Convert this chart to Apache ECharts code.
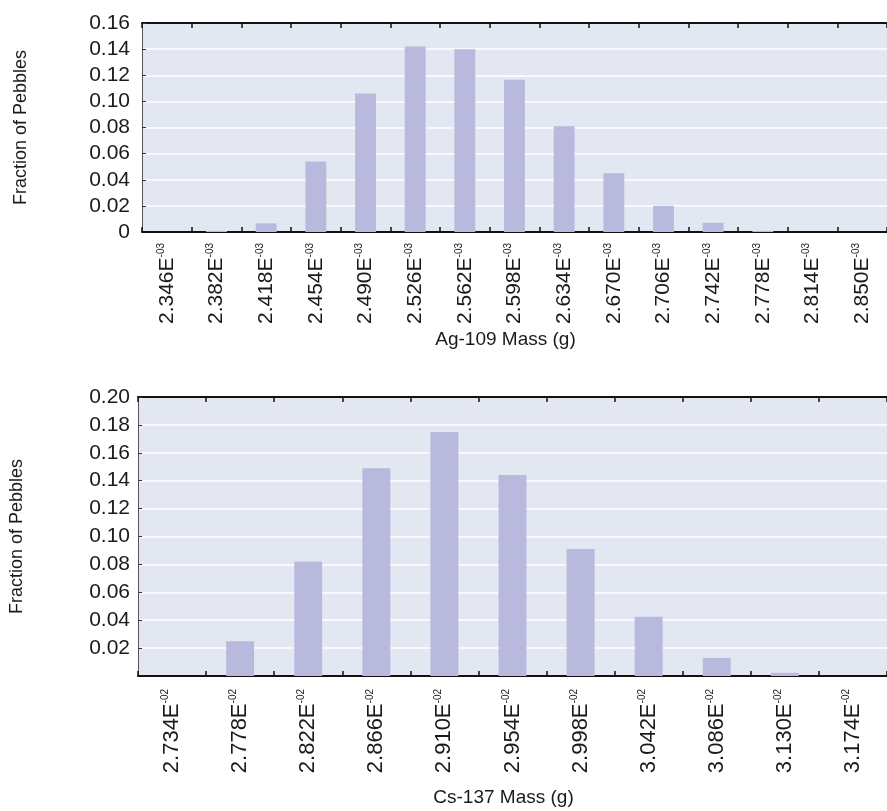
<!DOCTYPE html>
<html>
<head>
<meta charset="utf-8">
<script src="https://cdn.jsdelivr.net/npm/echarts@6/dist/echarts.min.js"></script>
<style>
  html, body { margin: 0; padding: 0; background: #fff; }
  #chart { width: 887px; height: 811px; }
</style>
</head>
<body>
<div id="chart"></div>
<script>
// Ag-109 histogram (top panel)
const agMass = ['2.346', '2.382', '2.418', '2.454', '2.490', '2.526', '2.562', '2.598',
    '2.634', '2.670', '2.706', '2.742', '2.778', '2.814', '2.850']
const agFraction = [0, 0.0008, 0.0066, 0.054, 0.106, 0.142, 0.140, 0.1165,
    0.081, 0.045, 0.020, 0.007, 0.0008, 0, 0]
const agExp = '-03'

// Cs-137 histogram (bottom panel)
const csMass = ['2.734', '2.778', '2.822', '2.866', '2.910', '2.954', '2.998',
    '3.042', '3.086', '3.130', '3.174']
const csFraction = [0, 0.025, 0.082, 0.149, 0.175, 0.144, 0.091, 0.0425, 0.013, 0.0023, 0]
const csExp = '-02'

const FONT = "'Liberation Sans', Arial, Helvetica, sans-serif"
const TXT = '#1a1a1a'
const BAR = '#b9b9dd'
const PLOT_BG = '#e2e7f2'

function massLabels(exp, margin, size) {
    return {
        rotate: 90,
        margin: margin,
        interval: 0,
        formatter: v => '{n|' + v + 'E}{s|' + exp + '}',
        rich: {
            n: { fontFamily: FONT, fontSize: size, color: TXT, lineHeight: size + 1 },
            s: { fontFamily: FONT, fontSize: 10, color: TXT, verticalAlign: 'top', lineHeight: size + 1 }
        }
    }
}

function bottomAxis(idx, cats, exp, title, gap, margin, size) {
    return {
        type: 'category',
        gridIndex: idx,
        position: 'bottom',
        data: cats,
        axisLine: { show: true, lineStyle: { color: '#111', width: 2 } },
        axisTick: { show: true, inside: true, length: 5, lineStyle: { color: '#111', width: 1.5 } },
        axisLabel: massLabels(exp, margin, size),
        name: title,
        nameLocation: 'middle',
        nameGap: gap,
        nameTextStyle: { fontFamily: FONT, fontSize: 19, color: TXT, padding: [0, 18, 0, 0] },
        z: 1
    }
}

function topAxis(idx, cats) {
    return {
        type: 'category',
        gridIndex: idx,
        position: 'top',
        data: cats,
        axisLine: { show: true, lineStyle: { color: '#111', width: 2 } },
        axisTick: { show: true, inside: true, length: 5, lineStyle: { color: '#111', width: 1.5 } },
        axisLabel: { show: false }
    }
}

function fracAxis(idx, max, showZero, margin) {
    return {
        type: 'value',
        gridIndex: idx,
        min: 0,
        max: max,
        interval: 0.02,
        axisLine: { show: true, lineStyle: { color: '#555', width: 1 } },
        axisTick: { show: true, inside: true, length: 4, lineStyle: { color: '#333' } },
        splitLine: { show: true, lineStyle: { color: '#ffffff', width: 1.5 } },
        axisLabel: {
            fontFamily: FONT, fontSize: 21, color: TXT, margin: margin,
            formatter: v => v === 0 ? (showZero ? '0' : '') : v.toFixed(2)
        },
        name: 'Fraction of Pebbles',
        nameLocation: 'middle',
        nameGap: 112,
        nameTextStyle: { fontFamily: FONT, fontSize: 18, color: TXT }
    }
}

const chart = echarts.init(document.getElementById('chart'), null, { renderer: 'canvas' })

const option = {
    animation: false,
    backgroundColor: '#ffffff',
    grid: [
        { left: 142, top: 23, right: 0, height: 209, show: true, backgroundColor: PLOT_BG, borderWidth: 0 },
        { left: 137, top: 397, right: 0, height: 279, show: true, backgroundColor: PLOT_BG, borderWidth: 0 }
    ],
    xAxis: [
        bottomAxis(0, agMass, agExp, 'Ag-109 Mass (g)', 98, 11, 21),
        topAxis(0, agMass),
        bottomAxis(1, csMass, csExp, 'Cs-137 Mass (g)', 112, 13, 22),
        topAxis(1, csMass)
    ],
    yAxis: [
        fracAxis(0, 0.16, true, 12),
        fracAxis(1, 0.20, false, 8)
    ],
    series: [
        {
            type: 'bar',
            xAxisIndex: 0,
            yAxisIndex: 0,
            data: agFraction,
            barWidth: '42%',
            itemStyle: { color: BAR },
            z: 3
        },
        {
            type: 'bar',
            xAxisIndex: 2,
            yAxisIndex: 1,
            data: csFraction,
            barWidth: '41%',
            itemStyle: { color: BAR },
            z: 3
        }
    ]
}

chart.setOption(option)
</script>
</body>
</html>
